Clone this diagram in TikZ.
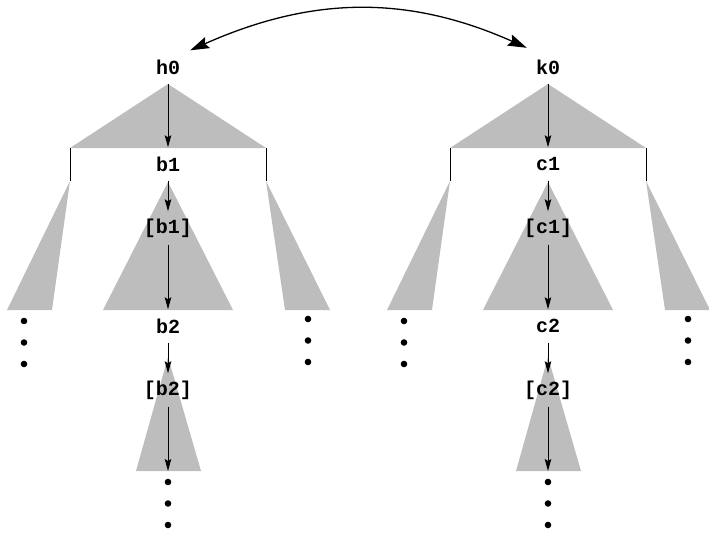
\documentclass[tikz,border=0pt]{standalone}
\usepackage{fontspec}
\setmonofont{Liberation Mono}
\usetikzlibrary{arrows.meta,positioning}

\tikzset{
  lbl/.style={font=\ttfamily\bfseries\fontsize{20}{20}\selectfont,
              minimum height=33pt, inner sep=1pt},
  treefill/.style={fill=gray!52},
  link/.style={-{Stealth[length=12pt,width=6.5pt,inset=2pt]}, line width=1pt},
  swap/.style={{Stealth[length=19pt,width=12pt,inset=3pt]}-{Stealth[length=19pt,width=12pt,inset=3pt]},
               line width=1.3pt},
}

\begin{document}
\begin{tikzpicture}[x=1pt,y=-1pt]
  \useasboundingbox (0,0) rectangle (709,535);
  \foreach \cx/\r/\s in {168/h/b,548/k/c}{
    % shaded subtrees
    \fill[treefill] (\cx,84) -- ({\cx-98},148) -- ({\cx+98},148) -- cycle;
    \fill[treefill] (\cx,182) -- ({\cx-65},310) -- ({\cx+65},310) -- cycle;
    \fill[treefill] ({\cx-98},181) -- ({\cx-161},310) -- ({\cx-116},310) -- cycle;
    \fill[treefill] ({\cx+98},181) -- ({\cx+117},310) -- ({\cx+162},310) -- cycle;
    \fill[treefill] (\cx,357) -- ({\cx-32},471) -- ({\cx+33},471) -- cycle;
    \draw[line width=0.8pt] ({\cx-98},148) -- ({\cx-98},181)
                            ({\cx+98},148) -- ({\cx+98},181);
    % labels
    \node[lbl] (\r0) at (\cx,67) {\r0};
    \node[lbl] (\s1) at (\cx,164) {\s1};
    \node[lbl] (l\s1) at (\cx,228) {[\s1]};
    \node[lbl] (\s2) at (\cx,326) {\s2};
    \node[lbl] (l\s2) at (\cx,390) {[\s2]};
    \coordinate (e\s2) at (\cx,471);
    \draw[link] (\r0) -- (\s1);
    \draw[link] (\s1) -- (l\s1);
    \draw[link] (l\s1) -- (\s2);
    \draw[link] (\s2) -- (l\s2);
    \draw[link] (l\s2) -- (e\s2);
    % continuation dots
    \foreach \dy in {0,21.5,43}{
      \fill ({\cx-144},{321+\dy}) circle (3.3);
      \fill ({\cx+140},{319+\dy}) circle (3.3);
      \fill (\cx,{482+\dy}) circle (3.3);
    }
  }
  \draw[swap] ([xshift=9pt]h0.north east) to[out=24,in=156]
              ([xshift=-8pt,yshift=2.5pt]k0.north west);
\end{tikzpicture}
\end{document}
